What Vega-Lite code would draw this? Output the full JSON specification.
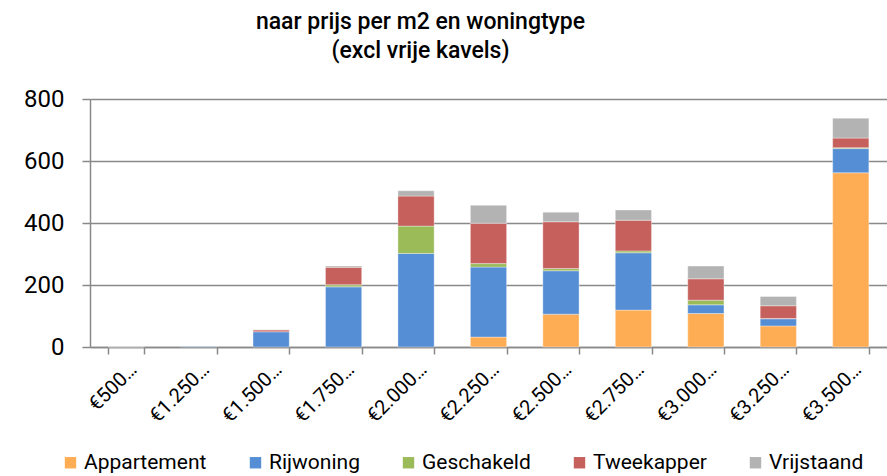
{
  "$schema": "https://vega.github.io/schema/vega-lite/v6.json",
  "autosize": "none",
  "width": 797,
  "height": 248,
  "padding": {"left": 90, "top": 99, "right": 0, "bottom": 129},
  "background": "white",
  "title": {
    "text": ["naar prijs per m2 en woningtype", "(excl vrije kavels)"],
    "font": "Roboto",
    "fontSize": 23,
    "fontWeight": 500,
    "lineHeight": 29,
    "color": "#000000",
    "anchor": "middle",
    "dx": -68,
    "offset": 24
  },
  "data": {
    "values": [
      {"prijs": "€500…", "type": "Appartement", "rang": 1, "aantal": 0},
      {"prijs": "€1.250…", "type": "Rijwoning", "rang": 2, "aantal": 2},
      {"prijs": "€1.500…", "type": "Rijwoning", "rang": 2, "aantal": 49},
      {"prijs": "€1.500…", "type": "Tweekapper", "rang": 4, "aantal": 6},
      {"prijs": "€1.500…", "type": "Vrijstaand", "rang": 5, "aantal": 1},
      {"prijs": "€1.750…", "type": "Rijwoning", "rang": 2, "aantal": 194},
      {"prijs": "€1.750…", "type": "Geschakeld", "rang": 3, "aantal": 7},
      {"prijs": "€1.750…", "type": "Tweekapper", "rang": 4, "aantal": 56},
      {"prijs": "€1.750…", "type": "Vrijstaand", "rang": 5, "aantal": 4},
      {"prijs": "€2.000…", "type": "Rijwoning", "rang": 2, "aantal": 302},
      {"prijs": "€2.000…", "type": "Geschakeld", "rang": 3, "aantal": 88},
      {"prijs": "€2.000…", "type": "Tweekapper", "rang": 4, "aantal": 97},
      {"prijs": "€2.000…", "type": "Vrijstaand", "rang": 5, "aantal": 17},
      {"prijs": "€2.250…", "type": "Appartement", "rang": 1, "aantal": 32},
      {"prijs": "€2.250…", "type": "Rijwoning", "rang": 2, "aantal": 226},
      {"prijs": "€2.250…", "type": "Geschakeld", "rang": 3, "aantal": 11},
      {"prijs": "€2.250…", "type": "Tweekapper", "rang": 4, "aantal": 130},
      {"prijs": "€2.250…", "type": "Vrijstaand", "rang": 5, "aantal": 58},
      {"prijs": "€2.500…", "type": "Appartement", "rang": 1, "aantal": 106},
      {"prijs": "€2.500…", "type": "Rijwoning", "rang": 2, "aantal": 140},
      {"prijs": "€2.500…", "type": "Geschakeld", "rang": 3, "aantal": 7},
      {"prijs": "€2.500…", "type": "Tweekapper", "rang": 4, "aantal": 151},
      {"prijs": "€2.500…", "type": "Vrijstaand", "rang": 5, "aantal": 31},
      {"prijs": "€2.750…", "type": "Appartement", "rang": 1, "aantal": 119},
      {"prijs": "€2.750…", "type": "Rijwoning", "rang": 2, "aantal": 185},
      {"prijs": "€2.750…", "type": "Geschakeld", "rang": 3, "aantal": 6},
      {"prijs": "€2.750…", "type": "Tweekapper", "rang": 4, "aantal": 99},
      {"prijs": "€2.750…", "type": "Vrijstaand", "rang": 5, "aantal": 33},
      {"prijs": "€3.000…", "type": "Appartement", "rang": 1, "aantal": 108},
      {"prijs": "€3.000…", "type": "Rijwoning", "rang": 2, "aantal": 28},
      {"prijs": "€3.000…", "type": "Geschakeld", "rang": 3, "aantal": 15},
      {"prijs": "€3.000…", "type": "Tweekapper", "rang": 4, "aantal": 69},
      {"prijs": "€3.000…", "type": "Vrijstaand", "rang": 5, "aantal": 41},
      {"prijs": "€3.250…", "type": "Appartement", "rang": 1, "aantal": 68},
      {"prijs": "€3.250…", "type": "Rijwoning", "rang": 2, "aantal": 23},
      {"prijs": "€3.250…", "type": "Geschakeld", "rang": 3, "aantal": 1},
      {"prijs": "€3.250…", "type": "Tweekapper", "rang": 4, "aantal": 41},
      {"prijs": "€3.250…", "type": "Vrijstaand", "rang": 5, "aantal": 30},
      {"prijs": "€3.500…", "type": "Appartement", "rang": 1, "aantal": 562},
      {"prijs": "€3.500…", "type": "Rijwoning", "rang": 2, "aantal": 78},
      {"prijs": "€3.500…", "type": "Geschakeld", "rang": 3, "aantal": 3},
      {"prijs": "€3.500…", "type": "Tweekapper", "rang": 4, "aantal": 31},
      {"prijs": "€3.500…", "type": "Vrijstaand", "rang": 5, "aantal": 64}
    ]
  },
  "mark": {"type": "bar", "stroke": "white", "strokeWidth": 0.6, "strokeOpacity": 0.6},
  "encoding": {
    "x": {
      "field": "prijs",
      "type": "nominal",
      "sort": null,
      "title": null,
      "scale": {"paddingInner": 0.5, "paddingOuter": 0.25},
      "axis": {
        "labelAngle": -45,
        "labelFont": "Roboto",
        "labelFontSize": 20,
        "labelColor": "#000000",
        "labelPadding": 5,
        "tickBand": "extent",
        "tickSize": 7,
        "tickColor": "#898989",
        "tickWidth": 1.5,
        "domainColor": "#898989",
        "domainWidth": 1.5
      }
    },
    "y": {
      "field": "aantal",
      "type": "quantitative",
      "stack": "zero",
      "title": null,
      "scale": {"domain": [0, 800], "nice": false},
      "axis": {
        "values": [0, 200, 400, 600, 800],
        "labelFont": "Roboto",
        "labelFontSize": 24,
        "labelColor": "#000000",
        "labelPadding": 18,
        "tickSize": 8,
        "tickColor": "#898989",
        "tickWidth": 1.5,
        "domainColor": "#898989",
        "domainWidth": 1.5,
        "gridColor": "#898989",
        "gridWidth": 1.5
      }
    },
    "color": {
      "field": "type",
      "type": "nominal",
      "scale": {
        "domain": ["Appartement", "Rijwoning", "Geschakeld", "Tweekapper", "Vrijstaand"],
        "range": ["#FFAD55", "#558ED5", "#9BBB59", "#C5605D", "#B3B3B3"]
      },
      "legend": {
        "title": null,
        "orient": "none",
        "direction": "horizontal",
        "legendX": -30,
        "legendY": 353,
        "symbolType": "square",
        "symbolSize": 130,
        "symbolStrokeWidth": 0,
        "labelFont": "Roboto",
        "labelFontSize": 21,
        "labelColor": "#000000",
        "labelOffset": 3,
        "columnPadding": 38
      }
    },
    "order": {"field": "rang", "type": "quantitative", "sort": "ascending"}
  }
}
